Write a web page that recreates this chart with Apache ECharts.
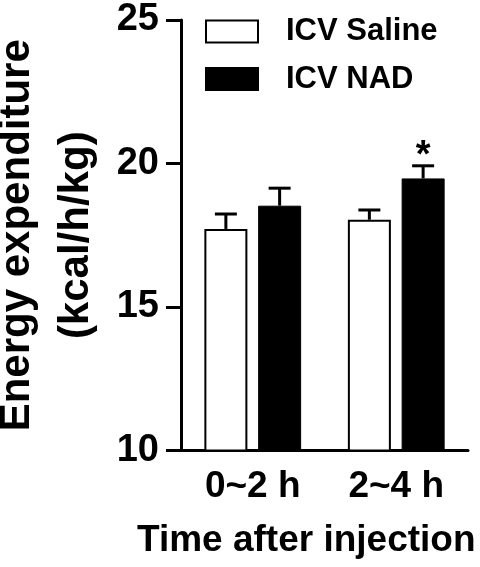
<!DOCTYPE html>
<html>
<head>
<meta charset="utf-8">
<script src="https://cdn.jsdelivr.net/npm/echarts@6/dist/echarts.min.js"></script>
<style>
  html, body { margin: 0; padding: 0; background: #fff; }
  #chart { width: 480px; height: 567px; }
</style>
</head>
<body>
<div id="chart"></div>
<script>
// data
const categories = ['0~2 h', '2~4 h']
const salineMean = [17.72, 18.04]
const salineSem = [0.52, 0.34]
const nadMean = [18.53, 19.48]
const nadSem = [0.61, 0.44]
const nadSig = ['', '*']
const yMin = 10
const yMax = 25
const yStep = 5

const FONT = '"Liberation Sans", Arial, sans-serif'
const BAR_W = 43
const GAP = 10.75
const OFF = (BAR_W + GAP) / 2

const chart = echarts.init(document.getElementById('chart'))

// error bar (upward only) + optional significance mark
const errorSeries = (name, means, sems, sig, side) => ({
  type: 'custom',
  name: name + ' err',
  z: 5,
  silent: true,
  encode: { x: 0, y: 1 },
  data: means.map((m, i) => [i, m, sems[i]]),
  renderItem: (params, api) => {
    const i = api.value(0)
    const m = api.value(1)
    const e = api.value(2)
    const base = api.coord([i, m])
    const top = api.coord([i, m + e])
    const x = base[0] + side * OFF
    const st = { stroke: '#000', lineWidth: 3 }
    const children = [
      { type: 'line', shape: { x1: x, y1: base[1], x2: x, y2: top[1] }, style: st },
      { type: 'line', shape: { x1: x - 11, y1: top[1], x2: x + 11, y2: top[1] }, style: st }
    ]
    const mark = sig ? sig[params.dataIndex] : ''
    if (mark) {
      children.push({
        type: 'text',
        style: {
          text: mark, x: x, y: top[1] - 9,
          align: 'center', verticalAlign: 'middle',
          font: 'bold 38px ' + FONT, fill: '#000'
        }
      })
    }
    return { type: 'group', children }
  }
})

const option = {
  animation: false,
  backgroundColor: '#fff',
  textStyle: { fontFamily: FONT, color: '#000' },
  title: {
    text: 'Time after injection',
    left: 137,
    top: 522,
    padding: 0,
    textStyle: { fontFamily: FONT, fontSize: 37, fontWeight: 'bold', color: '#000' }
  },
  legend: {
    orient: 'vertical',
    left: 205,
    top: 16,
    padding: 0,
    itemWidth: 52,
    itemHeight: 22,
    itemGap: 16.5,
    icon: 'rect',
    data: ['ICV Saline', 'ICV NAD'],
    textStyle: {
      fontFamily: FONT, fontSize: 31, fontWeight: 'bold', color: '#000',
      lineHeight: 22, padding: [0, 0, 0, 23]
    }
  },
  grid: { left: 181, right: 12, top: 20, bottom: 116.5, outerBoundsMode: 'none', containLabel: false },
  xAxis: {
    type: 'category',
    data: categories,
    axisLine: { lineStyle: { color: '#000', width: 3 } },
    axisTick: { alignWithLabel: true, length: 14, lineStyle: { color: '#000', width: 3 } },
    axisLabel: { margin: 18, fontFamily: FONT, fontSize: 37, fontWeight: 'bold', color: '#000' },
    splitLine: { show: false }
  },
  yAxis: {
    type: 'value',
    min: yMin,
    max: yMax,
    interval: yStep,
    name: 'Energy expenditure\n(kcal/h/kg)',
    nameLocation: 'middle',
    nameRotate: 90,
    nameGap: 72,
    nameTextStyle: { fontFamily: FONT, fontSize: 42, fontWeight: 'bold', color: '#000', lineHeight: 59 },
    axisLine: { show: true, lineStyle: { color: '#000', width: 3 } },
    axisTick: { show: true, length: 15, lineStyle: { color: '#000', width: 3 } },
    axisLabel: { margin: 22, fontFamily: FONT, fontSize: 38, fontWeight: 'bold', color: '#000' },
    splitLine: { show: false }
  },
  series: [
    {
      name: 'ICV Saline',
      type: 'bar',
      data: salineMean,
      barWidth: BAR_W,
      barGap: (GAP / BAR_W * 100).toFixed(1) + '%',
      itemStyle: { color: '#fff', borderColor: '#000', borderWidth: 2 }
    },
    {
      name: 'ICV NAD',
      type: 'bar',
      data: nadMean,
      barWidth: BAR_W,
      itemStyle: { color: '#000', borderColor: '#000', borderWidth: 1 }
    },
    errorSeries('ICV Saline', salineMean, salineSem, null, -1),
    errorSeries('ICV NAD', nadMean, nadSem, nadSig, 1)
  ]
}

chart.setOption(option)
</script>
</body>
</html>
